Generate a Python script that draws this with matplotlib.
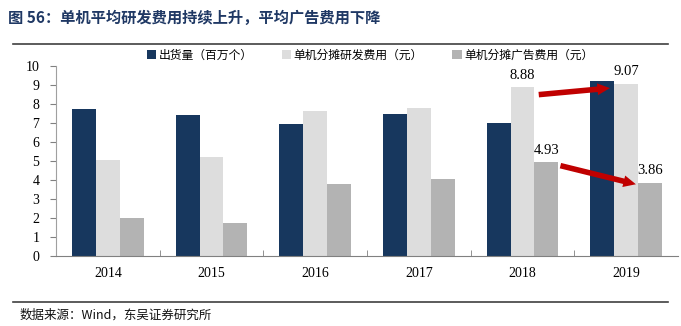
import matplotlib
matplotlib.use("Agg")
import matplotlib.pyplot as plt
import numpy as np

years = ["2014", "2015", "2016", "2017", "2018", "2019"]
shipments = [7.75, 7.44, 6.93, 7.46, 6.98, 9.20]
rd_cost = [5.05, 5.19, 7.65, 7.77, 8.88, 9.07]
ad_cost = [2.00, 1.72, 3.80, 4.05, 4.93, 3.86]
series_names = ["出货量（百万个）", "单机分摊研发费用（元）", "单机分摊广告费用（元）"]
colors = ["#17375E", "#DDDDDD", "#B3B3B3"]

CJK = ["Noto Sans CJK SC", "DejaVu Sans"]
SERIF = ["Liberation Serif", "DejaVu Serif"]

fig = plt.figure(figsize=(6.81, 3.26), dpi=100)
ax = fig.add_axes([56 / 681, 70 / 326, 622 / 681, 190 / 326])

x = np.arange(len(years))
w = 0.23
bars = []
for k, (vals, name, c) in enumerate(zip([shipments, rd_cost, ad_cost], series_names, colors)):
    b = ax.bar(x + (k - 1) * w, vals, w, color=c, label=name, zorder=2)
    bars.append(b)

ax.set_xlim(-0.5, len(years) - 0.5)
ax.set_ylim(0, 10)
ax.set_yticks(range(0, 11))
ax.set_xticks(x)
ax.set_xticklabels(years)
ax.set_xticks(x[:-1] + 0.5, minor=True)
ax.tick_params(axis="x", which="major", length=0, pad=8)
ax.tick_params(axis="x", which="minor", length=4, direction="in", color="#808080")
ax.tick_params(axis="y", length=4, color="#808080", pad=8)
for lab in ax.get_xticklabels() + ax.get_yticklabels():
    lab.set_family(SERIF)
    lab.set_fontsize(10)
for s in ["top", "right"]:
    ax.spines[s].set_visible(False)
ax.spines["left"].set_color("#A0A0A0")
ax.spines["bottom"].set_color("#808080")

# value labels for the last two years
for i in [4, 5]:
    for b, vals in [(bars[1], rd_cost), (bars[2], ad_cost)]:
        r = b[i]
        ax.text(r.get_x() + r.get_width() / 2, vals[i] + 0.3, f"{vals[i]:.2f}",
                ha="center", va="bottom", fontsize=10.5, family=SERIF)

# red trend arrows
arrow = dict(arrowstyle="simple,head_length=0.9,head_width=0.85,tail_width=0.4",
             color="#C00000", lw=0)
ax.annotate("", xy=(4.87, rd_cost[5] - 0.22), xytext=(4.13, rd_cost[4] - 0.4),
            arrowprops=arrow)
ax.annotate("", xy=(5.12, ad_cost[5] - 0.12), xytext=(4.34, ad_cost[4] - 0.14),
            arrowprops=arrow)

fig.legend(loc="center", bbox_to_anchor=(370 / 681, 1 - 55 / 326), ncol=3,
           frameon=False, prop={"family": CJK, "size": 8.5},
           handlelength=0.8, handleheight=0.8, handletextpad=0.2, columnspacing=2.5)

fig.text(8 / 681, 1 - 18 / 326, "图 56：单机平均研发费用持续上升，平均广告费用下降",
         family=CJK, fontsize=11, fontweight="bold", color="#1F3864", va="center")
fig.add_artist(plt.Line2D([13 / 681, 668 / 681], [1 - 44 / 326] * 2, color="#404040", lw=1.2))
fig.add_artist(plt.Line2D([13 / 681, 668 / 681], [1 - 302 / 326] * 2, color="#404040", lw=1.2))
fig.text(20 / 681, 1 - 315 / 326, "数据来源：Wind，东吴证券研究所",
         family=CJK, fontsize=9, color="#111111", va="center")

fig.savefig("out.png", dpi=100)
